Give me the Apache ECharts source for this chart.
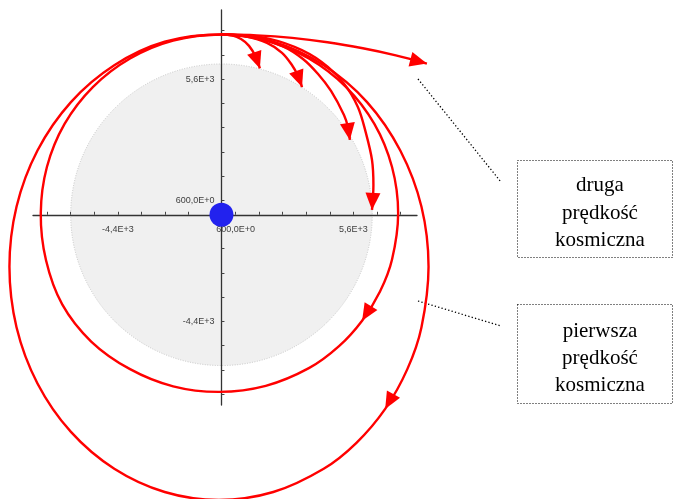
<!DOCTYPE html>
<html>
<head>
<meta charset="utf-8">
<script src="https://cdn.jsdelivr.net/npm/echarts@6/dist/echarts.min.js"></script>
<style>
  html, body { margin: 0; padding: 0; background: #ffffff; }
  #chart { width: 674px; height: 499px; }
</style>
</head>
<body>
<div id="chart"></div>
<script>
// Newton's cannon: trajectories fired horizontally from a tower top (km, centre of the planet at 0,0)
const earthRadius = 6400;
const planetCentre = [[0, 0]];

// escape trajectory (second cosmic velocity)
const escapePath = [[0, 7440], [1500, 7405], [3000, 7300], [4500, 7120], [6000, 6870], [7400, 6580], [8720, 6240]];

// shots that fall back to the surface
const fall1 = [[0, 7440], [450, 7400], [830, 7250], [1170, 6970], [1460, 6510], [1630, 6040]];
const fall2 = [[0, 7440], [1000, 7360], [1930, 7090], [2570, 6680], [2990, 6180], [3250, 5730], [3420, 5270]];
const fall3 = [[0, 7440], [1420, 7320], [2610, 6950], [3460, 6430], [4100, 5810], [4650, 5110], [5200, 4120], [5370, 3620], [5450, 3090]];
const fall4 = [[0, 7440], [1630, 7340], [3100, 6930], [4250, 6310], [5180, 5440], [5790, 4450], [6130, 3380], [6390, 2260], [6450, 1230], [6390, 200]];

// closed orbits: circular (first cosmic velocity) and elliptical
const circularOrbit = [[0, 7440], [1880, 7190], [3710, 6450], [5280, 5280], [6490, 3750], [7240, 1970], [7500, 60],
  [7240, -1850], [6730, -3170], [5970, -4370], [4990, -5420], [3710, -6330], [1880, -7060], [-90, -7310],
  [-2050, -7080], [-3900, -6360], [-5530, -5230], [-6760, -3700], [-7450, -1870], [-7670, 60], [-7410, 1970],
  [-6660, 3750], [-5450, 5280], [-3880, 6450], [-2050, 7190], [0, 7440]];
const ellipticOrbit = [[0, 7440], [2200, 7140], [4340, 6170], [6180, 4650], [7590, 2650], [8490, 330], [8790, -2150],
  [8490, -4640], [7890, -6370], [6950, -8010], [5730, -9410], [4340, -10480], [2200, -11440], [-110, -11770],
  [-2410, -11440], [-4550, -10480], [-6390, -8960], [-7810, -6960], [-8700, -4640], [-9000, -2150], [-8700, 330],
  [-7810, 2650], [-6390, 4650], [-4550, 6170], [-2410, 7140], [0, 7440]];

// axis ticks and labels
const tickValues = [-7400, -6400, -5400, -4400, -3400, -2400, -1400, -400, 600, 1600, 2600, 3600, 4600, 5600, 6600, 7600];
const labelValues = [-4400, 600, 5600];
const labelTexts = ['-4,4E+3', '600,0E+0', '5,6E+3'];

// annotation boxes
const escapeCaption = ['druga', 'prędkość', 'kosmiczna'];
const orbitCaption = ['pierwsza', 'prędkość', 'kosmiczna'];

const RED = '#ff0000';

// ---- layout: visible axes frame and a wider frame with the same scale for the paths ----
const AX = { left: 33, top: 10, width: 384, height: 395 };
const xRange = [-8000, 8300], yRange = [-7850, 8450];
const xWide = [-9400, 9100], yWide = [-12000, 8450];
const sx = AX.width / (xRange[1] - xRange[0]);
const sy = AX.height / (yRange[1] - yRange[0]);
const wideGrid = {
  left: AX.left + (xWide[0] - xRange[0]) * sx,
  top: AX.top + (yRange[1] - yWide[1]) * sy,
  width: (xWide[1] - xWide[0]) * sx,
  height: (yWide[1] - yWide[0]) * sy
};
// axis lines cross at the origin
const xAxisOffset = -(AX.height - yRange[1] * sy);
const yAxisOffset = xRange[0] * sx;

// every trajectory, drawn as a smooth curve through its points
const paths = [fall1, fall2, fall3, fall4, circularOrbit, ellipticOrbit, escapePath];
const closedPaths = [circularOrbit, ellipticOrbit];

// arrowheads: tip point and the point before it on the same path
function arrowAt(path, i) {
  return [path[i][0], path[i][1], path[i - 1][0], path[i - 1][1]];
}
const arrowData = [
  arrowAt(escapePath, escapePath.length - 1),
  arrowAt(fall1, fall1.length - 1),
  arrowAt(fall2, fall2.length - 1),
  arrowAt(fall3, fall3.length - 1),
  arrowAt(fall4, fall4.length - 1),
  arrowAt(circularOrbit, 9),
  arrowAt(ellipticOrbit, 9)
];

function labelFor(v) {
  const i = labelValues.indexOf(v);
  return i >= 0 ? labelTexts[i] : '';
}

const axisCommon = {
  type: 'value',
  gridIndex: 0,
  z: 3,
  splitLine: { show: false },
  axisLine: { onZero: false, lineStyle: { color: '#333333', width: 1.3 } },
  axisTick: { inside: true, length: 3, customValues: tickValues, lineStyle: { color: '#444444', width: 1 } },
  axisLabel: {
    customValues: labelValues,
    formatter: labelFor,
    color: '#404040',
    fontSize: 9,
    fontFamily: '"Liberation Sans", Arial, sans-serif'
  }
};

const hiddenAxis = { type: 'value', gridIndex: 1, show: false, splitLine: { show: false } };

const chart = echarts.init(document.getElementById('chart'));
chart.setOption({
  animation: false,
  backgroundColor: '#ffffff',
  grid: [
    Object.assign({ containLabel: false, outerBoundsMode: 'none' }, AX),
    Object.assign({ containLabel: false, outerBoundsMode: 'none' }, wideGrid)
  ],
  xAxis: [
    Object.assign({}, axisCommon, {
      position: 'bottom',
      offset: xAxisOffset,
      min: xRange[0], max: xRange[1],
      axisLabel: Object.assign({}, axisCommon.axisLabel, { margin: 10 })
    }),
    Object.assign({}, hiddenAxis, { min: xWide[0], max: xWide[1] })
  ],
  yAxis: [
    Object.assign({}, axisCommon, {
      position: 'left',
      offset: yAxisOffset,
      min: yRange[0], max: yRange[1],
      axisLabel: Object.assign({}, axisCommon.axisLabel, { margin: 7 })
    }),
    Object.assign({}, hiddenAxis, { min: yWide[0], max: yWide[1] })
  ],
  series: [
    {
      name: 'Ziemia',
      type: 'custom',
      xAxisIndex: 1,
      yAxisIndex: 1,
      z: 1,
      data: [[planetCentre[0][0], planetCentre[0][1], earthRadius]],
      encode: { x: 0, y: 1 },
      renderItem: function (params, api) {
        const c = api.coord([api.value(0), api.value(1)]);
        const r = api.size([api.value(2), 0])[0];
        return {
          type: 'circle',
          shape: { cx: c[0], cy: c[1], r: r },
          style: { fill: '#f0f0f0', stroke: '#c6c6c6', lineWidth: 1, lineDash: [1, 1.5] }
        };
      }
    },
    {
      name: 'trajectories',
      type: 'custom',
      xAxisIndex: 1,
      yAxisIndex: 1,
      z: 5,
      clip: false,
      data: paths.map(function (p, i) { return [p[0][0], p[0][1], i]; }),
      encode: { x: 0, y: 1 },
      renderItem: function (params, api) {
        const path = paths[api.value(2)];
        const closed = closedPaths.indexOf(path) >= 0;
        const pts = (closed ? path.slice(0, path.length - 1) : path).map(function (d) { return api.coord(d); });
        return {
          type: closed ? 'polygon' : 'polyline',
          shape: { points: pts, smooth: 0.34 },
          style: { fill: 'none', stroke: RED, lineWidth: 2.4 }
        };
      }
    },
    {
      name: 'arrows',
      type: 'custom',
      xAxisIndex: 1,
      yAxisIndex: 1,
      z: 6,
      clip: false,
      data: arrowData,
      encode: { x: 0, y: 1 },
      renderItem: function (params, api) {
        const tip = api.coord([api.value(0), api.value(1)]);
        const from = api.coord([api.value(2), api.value(3)]);
        let dx = tip[0] - from[0], dy = tip[1] - from[1];
        const len = Math.hypot(dx, dy) || 1;
        dx /= len; dy /= len;
        const L = 17, W = 7.5;
        const bx = tip[0] - dx * L, by = tip[1] - dy * L;
        return {
          type: 'polygon',
          shape: { points: [tip, [bx - dy * W, by + dx * W], [bx + dy * W, by - dx * W]] },
          style: { fill: RED }
        };
      }
    },
    {
      name: 'centre',
      type: 'scatter',
      xAxisIndex: 1,
      yAxisIndex: 1,
      z: 7,
      data: planetCentre,
      symbol: 'circle',
      symbolSize: 24,
      itemStyle: { color: '#2222ee', opacity: 1 }
    }
  ],
  graphic: [
    { type: 'line', shape: { x1: 418, y1: 79, x2: 501, y2: 182 }, style: { stroke: '#000', lineWidth: 1.3, lineDash: [1.3, 2.2] } },
    { type: 'line', shape: { x1: 418, y1: 301, x2: 501, y2: 326 }, style: { stroke: '#000', lineWidth: 1.3, lineDash: [1.3, 2.2] } },
    { type: 'rect', shape: { x: 517.5, y: 160.5, width: 155, height: 97 }, style: { fill: 'none', stroke: '#000', lineWidth: 1, lineDash: [1, 2] } },
    { type: 'rect', shape: { x: 517.5, y: 304.5, width: 155, height: 99 }, style: { fill: 'none', stroke: '#000', lineWidth: 1, lineDash: [1, 2] } },
    {
      type: 'text', x: 600, y: 213,
      style: { text: escapeCaption.join('\n'), font: '21px "Liberation Serif", "Times New Roman", serif', fill: '#000', align: 'center', verticalAlign: 'middle', lineHeight: 27.5 }
    },
    {
      type: 'text', x: 600, y: 358,
      style: { text: orbitCaption.join('\n'), font: '21px "Liberation Serif", "Times New Roman", serif', fill: '#000', align: 'center', verticalAlign: 'middle', lineHeight: 27 }
    }
  ]
});
</script>
</body>
</html>
